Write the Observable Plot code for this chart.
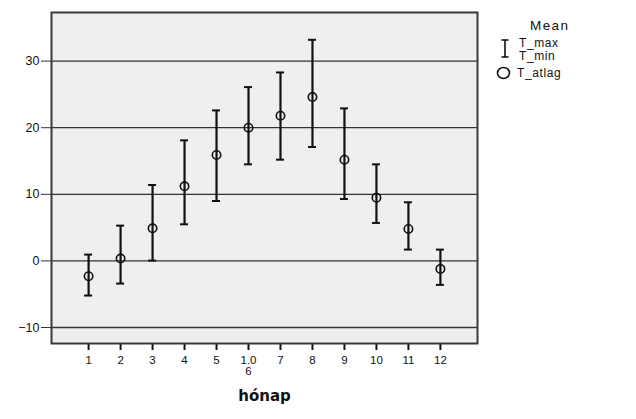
<!DOCTYPE html>
<html>
<head>
<meta charset="utf-8">
<script src="https://cdn.jsdelivr.net/npm/d3@7"></script>
<script src="https://cdn.jsdelivr.net/npm/@observablehq/plot@0.6"></script>
<style>
  html, body { margin: 0; padding: 0; background: #fff; }
  #wrap { position: relative; width: 636px; height: 419px; overflow: hidden; }
  #legend { position: absolute; left: 0; top: 0; width: 636px; height: 419px; pointer-events: none; font-family: "Liberation Sans", Arial, sans-serif; color: #111; }
  .lt { position: absolute; font-size: 12px; letter-spacing: 0.6px; line-height: 12px; }
</style>
</head>
<body>
<div id="wrap">
  <div id="chart"></div>
  <div id="legend">
    <div class="lt" style="left:530px; top:20px; font-size:13.5px; letter-spacing:1.4px;">Mean</div>
    <svg style="position:absolute; left:498px; top:38px;" width="16" height="22">
      <line x1="7" y1="2" x2="7" y2="19" stroke="#111" stroke-width="1.6"/>
      <line x1="3.5" y1="2" x2="10.5" y2="2" stroke="#111" stroke-width="1.6"/>
      <line x1="3.5" y1="19" x2="10.5" y2="19" stroke="#111" stroke-width="1.6"/>
    </svg>
    <div class="lt" style="left:519px; top:37px;">T_max</div>
    <div class="lt" style="left:519px; top:50px;">T_min</div>
    <svg style="position:absolute; left:495px; top:65px;" width="18" height="16">
      <ellipse cx="8.5" cy="8" rx="6" ry="5.5" fill="none" stroke="#111" stroke-width="1.6"/>
    </svg>
    <div class="lt" style="left:517px; top:67px;">T_atlag</div>
  </div>
</div>
<script>
const months = [1, 2, 3, 4, 5, 6, 7, 8, 9, 10, 11, 12];
const tickLabels = ["1", "2", "3", "4", "5", "1.0\n6", "7", "8", "9", "10", "11", "12"];
const tMax = [0.95, 5.3, 11.4, 18.1, 22.6, 26.1, 28.3, 33.2, 22.9, 14.5, 8.8, 1.7];
const tMin = [-5.2, -3.4, 0.05, 5.5, 9.0, 14.5, 15.2, 17.1, 9.3, 5.7, 1.7, -3.6];
const tAtlag = [-2.3, 0.35, 4.9, 11.2, 15.9, 20.0, 21.8, 24.6, 15.2, 9.5, 4.8, -1.2];
const yTicks = [-10, 0, 10, 20, 30];

const data = months.map((m, i) => ({month: m, max: tMax[i], min: tMin[i], mean: tAtlag[i]}));

const chart = Plot.plot({
  width: 636,
  height: 419,
  marginLeft: 51,
  marginRight: 159,
  marginTop: 12,
  marginBottom: 76,
  style: {fontFamily: "'Liberation Sans', Arial, sans-serif", fontSize: "11px", color: "#111", background: "transparent"},
  x: {type: "band", domain: months, paddingInner: 0, paddingOuter: 0.66, round: false, label: null},
  y: {domain: [-12.4, 37.3], label: null},
  marks: [
    Plot.frame({fill: "#efefef"}),
    Plot.ruleY(yTicks, {stroke: "#333", strokeWidth: 1.3}),
    Plot.ruleX(data, {x: "month", y1: "min", y2: "max", stroke: "#111", strokeWidth: 2.2}),
    Plot.tickY(data, {x: "month", y: "max", insetLeft: 12, insetRight: 12, stroke: "#111", strokeWidth: 2}),
    Plot.tickY(data, {x: "month", y: "min", insetLeft: 12, insetRight: 12, stroke: "#111", strokeWidth: 2}),
    Plot.dot(data, {x: "month", y: "mean", r: 4.2, stroke: "#111", strokeWidth: 1.6, fill: "none"}),
    Plot.axisY({ticks: yTicks, tickSize: 10, tickPadding: 2, label: null, fontSize: 12.5, stroke: "#333"}),
    Plot.axisX({tickFormat: d => tickLabels[months.indexOf(d)], tickSize: 7, tickPadding: 5, strokeWidth: 2, stroke: "#111", label: null, fontSize: 11.5}),
    Plot.frame({stroke: "#3a3a3a", strokeWidth: 2}),
    Plot.text(["hónap"], {text: d => d, frameAnchor: "bottom", dy: 57, fontWeight: "bold", fontSize: 15, fontFamily: "'DejaVu Sans', Verdana, sans-serif", fill: "#111"})
  ]
});
document.getElementById("chart").appendChild(chart);
</script>
</body>
</html>
